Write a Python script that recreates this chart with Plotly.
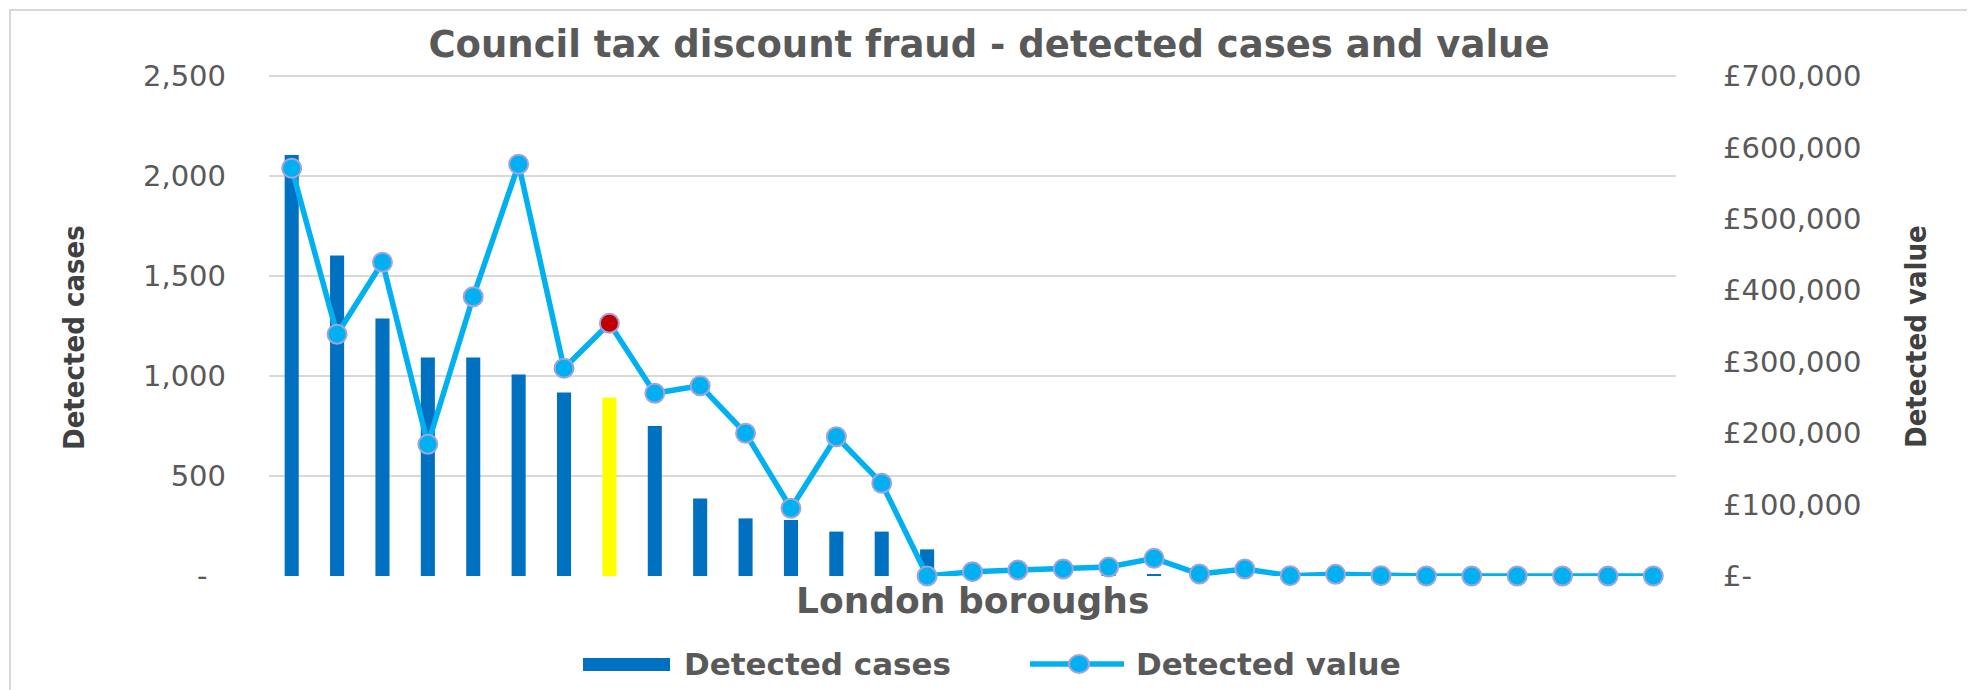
import plotly.graph_objects as go

# ---------------- data ----------------
boroughs = ["B01", "B02", "B03", "B04", "B05", "B06", "B07", "B08", "B09", "B10",
            "B11", "B12", "B13", "B14", "B15", "B16", "B17", "B18", "B19", "B20",
            "B21", "B22", "B23", "B24", "B25", "B26", "B27", "B28", "B29", "B30", "B31"]
detected_cases = [2105, 1602, 1288, 1093, 1093, 1007, 918, 892, 750, 388,
                  288, 280, 222, 222, 133, 5, 6, 8, 14, 10,
                  2, 6, 1, 2, 1, 0, 0, 0, 0, 0, 0]
detected_value = [570800, 338400, 439200, 184400, 391000, 576400, 290800, 353800, 255800, 266400,
                  199800, 94800, 195000, 129800, 0, 6100, 8400, 9800, 12500, 24700,
                  2800, 9800, 500, 2300, 500, 0, 0, 0, 0, 0, 0]
highlight_index = 7

cases_tickvals = [0, 500, 1000, 1500, 2000, 2500]
cases_ticktext = ["-\u2007", "500", "1,000", "1,500", "2,000", "2,500"]
value_tickvals = [0, 100000, 200000, 300000, 400000, 500000, 600000, 700000]
value_ticktext = ["£-", "£100,000", "£200,000", "£300,000", "£400,000",
                  "£500,000", "£600,000", "£700,000"]

# ---------------- styling ----------------
BAR_BLUE = "#0070C0"
HL_YELLOW = "#FFFF00"
LINE_BLUE = "#00B0F0"
HL_RED = "#C00000"
MARKER_EDGE = "#A3A3DB"
GRID = "#D9D9D9"
TXT = "#595959"

W, H = 1975, 690
OFF = 8                      # default page (body) margin
PL, PR, PT, PB = 269, 1676, 74, 576   # plot area in page pixels (top padded 2px above 2,500 grid)
CASES_MAX, VALUE_MAX = 2510, 702800


def px(x):
    return (x - PL) / (PR - PL)


def py(y):
    return (PB - y) / (PB - PT)


bar_colors = [HL_YELLOW if i == highlight_index else BAR_BLUE for i in range(len(boroughs))]
marker_colors = [HL_RED if i == highlight_index else LINE_BLUE for i in range(len(boroughs))]

fig = go.Figure()
fig.add_trace(go.Bar(
    x=boroughs, y=detected_cases, name="Detected cases",
    marker=dict(color=bar_colors, line=dict(width=0)),
    showlegend=False,
))
fig.add_trace(go.Scatter(
    x=boroughs, y=detected_value, name="Detected value", yaxis="y2",
    mode="lines+markers",
    line=dict(color=LINE_BLUE, width=5.5),
    marker=dict(size=19, color=marker_colors, line=dict(color=MARKER_EDGE, width=2)),
    cliponaxis=False, showlegend=False,
))

tick_font = dict(family="DejaVu Sans", size=29, color=TXT)
bold_font = dict(family="DejaVu Sans", size=31, color=TXT, weight="bold")
axis_title_font = dict(family="Liberation Sans Narrow, DejaVu Sans Condensed, Arial Narrow, sans-serif",
                       size=29, color="#404040", weight="bold")

FW, FH = W - OFF, H - OFF
fig.update_layout(
    width=FW, height=FH, autosize=False,
    margin=dict(l=PL - OFF, r=FW - (PR - OFF), t=PT - OFF, b=FH - (PB - OFF), pad=0),
    paper_bgcolor="white", plot_bgcolor="white",
    bargap=0.69,
    showlegend=False,
    title=dict(text="Council tax discount fraud - detected cases and value",
               x=(989 - OFF) / FW, xref="container", xanchor="center",
               y=1 - (44 - OFF) / FH, yref="container", yanchor="middle",
               font=dict(family="DejaVu Sans", size=37, color=TXT, weight="bold")),
    xaxis=dict(type="category", range=[-0.5, len(boroughs) - 0.5],
               showticklabels=False, showgrid=False, showline=False, zeroline=False, ticks=""),
    yaxis=dict(range=[0, CASES_MAX], tickvals=cases_tickvals, ticktext=cases_ticktext,
               showgrid=True, gridcolor=GRID, gridwidth=1.5, zeroline=False, showline=False,
               ticks="", ticklabelstandoff=42, tickfont=tick_font),
    yaxis2=dict(range=[0, VALUE_MAX], tickvals=value_tickvals, ticktext=value_ticktext,
                overlaying="y", side="right", showgrid=False, zeroline=False, showline=False,
                ticks="", ticklabelstandoff=46, tickfont=tick_font),
)

annotations = [
    dict(text="Detected cases", x=px(74), y=py(338), xref="paper", yref="paper",
         textangle=-90, showarrow=False, xanchor="center", yanchor="middle", font=axis_title_font),
    dict(text="Detected value", x=px(1916), y=py(337), xref="paper", yref="paper",
         textangle=-90, showarrow=False, xanchor="center", yanchor="middle", font=axis_title_font),
    dict(text="London boroughs", x=px(972), y=py(600), xref="paper", yref="paper",
         showarrow=False, xanchor="center", yanchor="middle", font=dict(bold_font, size=36)),
    dict(text="Detected cases", x=px(682), y=py(664), xref="paper", yref="paper",
         showarrow=False, xanchor="left", yanchor="middle", font=bold_font),
    dict(text="Detected value", x=px(1134), y=py(664), xref="paper", yref="paper",
         showarrow=False, xanchor="left", yanchor="middle", font=bold_font),
]

shapes = [
    # chart border
    dict(type="rect", xref="paper", yref="paper", x0=px(10), x1=px(1968), y0=py(700), y1=py(10),
         line=dict(color="#D9D9D9", width=2), fillcolor="rgba(0,0,0,0)", layer="below"),
    # legend: bar swatch
    dict(type="rect", xref="paper", yref="paper", x0=px(583), x1=px(670), y0=py(671), y1=py(658),
         line=dict(width=0), fillcolor=BAR_BLUE),
    # legend: line swatch
    dict(type="line", xref="paper", yref="paper", x0=px(1030), x1=px(1124), y0=py(664), y1=py(664),
         line=dict(color=LINE_BLUE, width=5.5)),
    dict(type="circle", xref="paper", yref="paper", xsizemode="pixel", ysizemode="pixel",
         xanchor=px(1079), yanchor=py(664), x0=-10, x1=10, y0=-9, y1=9,
         line=dict(color=MARKER_EDGE, width=2), fillcolor=LINE_BLUE),
]

fig.update_layout(annotations=annotations, shapes=shapes)

fig.write_html("out.html")
